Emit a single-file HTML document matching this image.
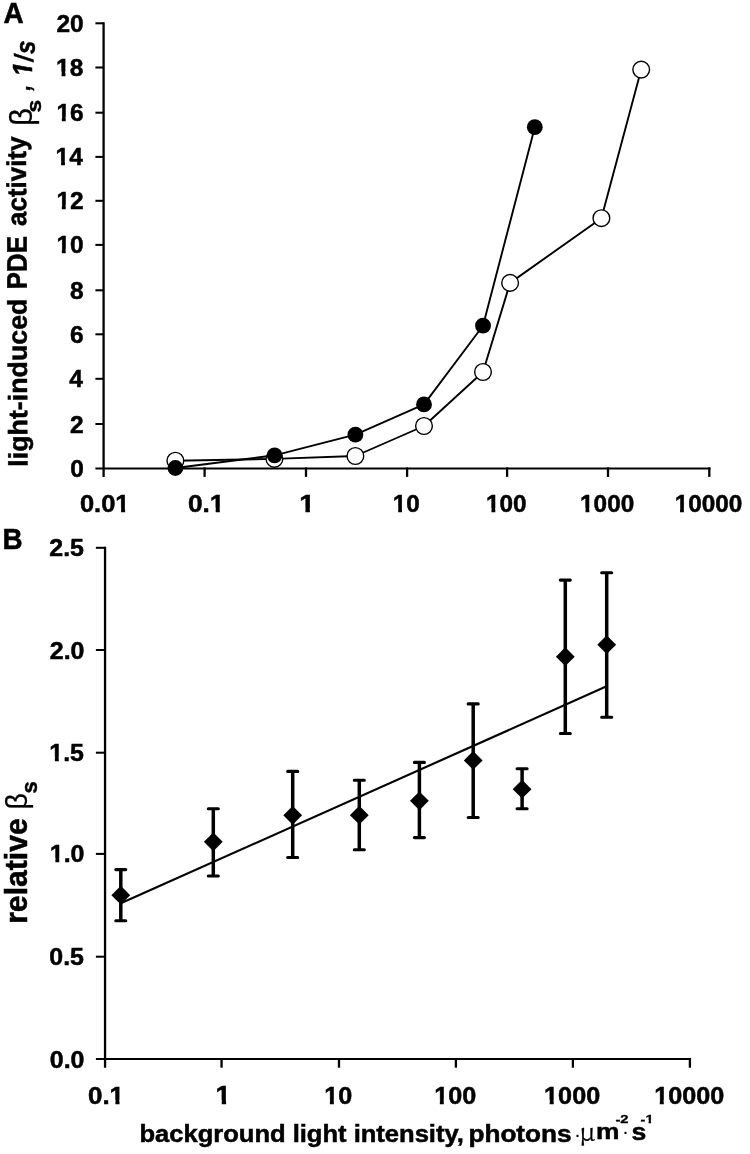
<!DOCTYPE html>
<html lang="en"><head><meta charset="utf-8"><title>Figure</title>
<style>html,body{margin:0;padding:0;background:#fff;}svg{display:block;}text{font-family:"Liberation Sans", Arial, Helvetica, sans-serif;font-weight:bold;fill:#000;}.sym{font-family:"Liberation Sans", Arial, sans-serif;font-weight:normal;}.ser{font-family:"Noto Serif CJK SC", "Liberation Serif", serif;font-weight:normal;}.ln{stroke:#000;fill:none;}</style></head><body>
<svg width="750" height="1154" viewBox="0 0 750 1154" role="img" aria-label="Figure panels A and B">
<rect x="0" y="0" width="750" height="1154" fill="#fff"/>
<g class="ln" stroke-width="2.3">
<path d="M103.6 22.275000000000002 V476.9"/>
<path d="M204.6 467.375 V476.9"/>
<path d="M306.0 467.375 V476.9"/>
<path d="M407.1 467.375 V476.9"/>
<path d="M507.1 467.375 V476.9"/>
<path d="M608.0 467.375 V476.9"/>
<path d="M709.3 467.375 V476.9"/>
</g>
<g class="ln" stroke-width="2.05">
<path d="M95.4 468.4 H710.4499999999999"/>
<path d="M95.4 23.3 H103.6"/>
<path d="M95.4 67.5 H103.6"/>
<path d="M95.4 112.7 H103.6"/>
<path d="M95.4 156.9 H103.6"/>
<path d="M95.4 200.8 H103.6"/>
<path d="M95.4 244.9 H103.6"/>
<path d="M95.4 290.3 H103.6"/>
<path d="M95.4 334.3 H103.6"/>
<path d="M95.4 378.8 H103.6"/>
<path d="M95.4 424.0 H103.6"/>
</g>
<g transform="translate(56.38 31.61) scale(1.0200 0.9886)"><text x="0" y="0" font-size="24" stroke="#000" stroke-width="0.5">20</text></g>
<g transform="translate(56.12 75.81) scale(1.0200 0.9886)"><text x="0" y="0" font-size="24" stroke="#000" stroke-width="0.5">18</text><polygon fill="#fff" points="0.36,-4.40 5.35,-4.40 5.35,1.95 0.36,1.95"/><polygon fill="#fff" points="9.14,-4.40 13.83,-4.40 13.83,1.95 9.14,1.95"/></g>
<g transform="translate(56.38 121.01) scale(1.0200 0.9886)"><text x="0" y="0" font-size="24" stroke="#000" stroke-width="0.5">16</text><polygon fill="#fff" points="0.36,-4.40 5.35,-4.40 5.35,1.95 0.36,1.95"/><polygon fill="#fff" points="9.14,-4.40 13.83,-4.40 13.83,1.95 9.14,1.95"/></g>
<g transform="translate(55.62 165.45) scale(1.0200 1.0176)"><text x="0" y="0" font-size="24" stroke="#000" stroke-width="0.5">14</text><polygon fill="#fff" points="0.36,-4.40 5.35,-4.40 5.35,1.95 0.36,1.95"/><polygon fill="#fff" points="9.14,-4.40 13.83,-4.40 13.83,1.95 9.14,1.95"/></g>
<g transform="translate(56.38 209.35) scale(1.0200 1.0029)"><text x="0" y="0" font-size="24" stroke="#000" stroke-width="0.5">12</text><polygon fill="#fff" points="0.36,-4.40 5.35,-4.40 5.35,1.95 0.36,1.95"/><polygon fill="#fff" points="9.14,-4.40 13.83,-4.40 13.83,1.95 9.14,1.95"/></g>
<g transform="translate(56.38 253.21) scale(1.0200 0.9886)"><text x="0" y="0" font-size="24" stroke="#000" stroke-width="0.5">10</text><polygon fill="#fff" points="0.36,-4.40 5.35,-4.40 5.35,1.95 0.36,1.95"/><polygon fill="#fff" points="9.14,-4.40 13.83,-4.40 13.83,1.95 9.14,1.95"/></g>
<g transform="translate(69.89 298.61) scale(1.0200 0.9886)"><text x="0" y="0" font-size="24" stroke="#000" stroke-width="0.5">8</text></g>
<g transform="translate(69.90 342.61) scale(1.0200 0.9886)"><text x="0" y="0" font-size="24" stroke="#000" stroke-width="0.5">6</text></g>
<g transform="translate(69.13 387.35) scale(1.0200 1.0176)"><text x="0" y="0" font-size="24" stroke="#000" stroke-width="0.5">4</text></g>
<g transform="translate(69.89 432.55) scale(1.0200 1.0029)"><text x="0" y="0" font-size="24" stroke="#000" stroke-width="0.5">2</text></g>
<g transform="translate(70.15 476.71) scale(1.0200 0.9886)"><text x="0" y="0" font-size="24" stroke="#000" stroke-width="0.5">0</text></g>
<g transform="translate(79.90 512.21) scale(1.0635 0.9829)"><text x="0" y="0" font-size="24" stroke="#000" stroke-width="0.5">0.01</text><polygon fill="#fff" points="33.72,-4.40 38.71,-4.40 38.71,1.95 33.72,1.95"/><polygon fill="#fff" points="42.50,-4.40 47.19,-4.40 47.19,1.95 42.50,1.95"/></g>
<g transform="translate(187.88 512.21) scale(1.0947 0.9829)"><text x="0" y="0" font-size="24" stroke="#000" stroke-width="0.5">0.1</text><polygon fill="#fff" points="20.38,-4.40 25.37,-4.40 25.37,1.95 20.38,1.95"/><polygon fill="#fff" points="29.16,-4.40 33.85,-4.40 33.85,1.95 29.16,1.95"/></g>
<g transform="translate(299.14 512.45) scale(1.1742 1.0118)"><text x="0" y="0" font-size="24" stroke="#000" stroke-width="0.5">1</text><polygon fill="#fff" points="0.36,-4.40 5.35,-4.40 5.35,1.95 0.36,1.95"/><polygon fill="#fff" points="9.14,-4.40 13.83,-4.40 13.83,1.95 9.14,1.95"/></g>
<g transform="translate(392.74 512.21) scale(1.0150 0.9829)"><text x="0" y="0" font-size="24" stroke="#000" stroke-width="0.5">10</text><polygon fill="#fff" points="0.36,-4.40 5.35,-4.40 5.35,1.95 0.36,1.95"/><polygon fill="#fff" points="9.14,-4.40 13.83,-4.40 13.83,1.95 9.14,1.95"/></g>
<g transform="translate(486.02 512.21) scale(1.0150 0.9829)"><text x="0" y="0" font-size="24" stroke="#000" stroke-width="0.5">100</text><polygon fill="#fff" points="0.36,-4.40 5.35,-4.40 5.35,1.95 0.36,1.95"/><polygon fill="#fff" points="9.14,-4.40 13.83,-4.40 13.83,1.95 9.14,1.95"/></g>
<g transform="translate(580.07 512.21) scale(1.0150 0.9829)"><text x="0" y="0" font-size="24" stroke="#000" stroke-width="0.5">1000</text><polygon fill="#fff" points="0.36,-4.40 5.35,-4.40 5.35,1.95 0.36,1.95"/><polygon fill="#fff" points="9.14,-4.40 13.83,-4.40 13.83,1.95 9.14,1.95"/></g>
<g transform="translate(674.64 512.21) scale(1.0150 0.9829)"><text x="0" y="0" font-size="24" stroke="#000" stroke-width="0.5">10000</text><polygon fill="#fff" points="0.36,-4.40 5.35,-4.40 5.35,1.95 0.36,1.95"/><polygon fill="#fff" points="9.14,-4.40 13.83,-4.40 13.83,1.95 9.14,1.95"/></g>
<g class="ln" stroke-width="1.9" stroke-linejoin="round">
<polyline points="175.4,460.7 274.4,458.9 355.4,456.0 424.0,426.0 483.0,372.0 510.1,282.9 601.4,218.2 641.2,69.6"/>
<polyline points="175.4,468.0 274.6,455.3 355.4,434.7 424.0,404.4 483.0,325.7 534.8,127.2"/>
</g>
<g fill="#fff" stroke="#000" stroke-width="1.4">
<circle cx="175.4" cy="460.7" r="8.35"/>
<circle cx="274.4" cy="458.9" r="8.35"/>
<circle cx="355.4" cy="456.0" r="8.35"/>
<circle cx="424.0" cy="426.0" r="8.35"/>
<circle cx="483.0" cy="372.0" r="8.35"/>
<circle cx="510.1" cy="282.9" r="8.35"/>
<circle cx="601.4" cy="218.2" r="8.35"/>
<circle cx="641.2" cy="69.6" r="8.35"/>
</g>
<g fill="#000">
<circle cx="175.4" cy="468.0" r="7.9"/>
<circle cx="274.6" cy="455.3" r="7.9"/>
<circle cx="355.4" cy="434.7" r="7.9"/>
<circle cx="424.0" cy="404.4" r="7.9"/>
<circle cx="483.0" cy="325.7" r="7.9"/>
<circle cx="534.8" cy="127.2" r="7.9"/>
</g>
<g transform="translate(3.50 23.23) scale(0.9974 1.0633)"><text x="0" y="0" font-size="28" stroke="#000" stroke-width="0.5">A</text></g>
<g transform="translate(2.56 548.94) scale(0.9943 1.0329)"><text x="0" y="0" font-size="28" stroke="#000" stroke-width="0.5">B</text></g>
<g transform="rotate(-0.37 20 300)">
<g transform="translate(26.48 466.74) rotate(-90) scale(0.9925 0.9864)"><text x="0" y="0" font-size="27" stroke="#000" stroke-width="0.5">light-induced</text></g>
<g transform="translate(26.94 289.35) rotate(-90) scale(0.9634 1.0474)"><text x="0" y="0" font-size="27" stroke="#000" stroke-width="0.5">PDE</text></g>
<g transform="translate(26.83 225.98) rotate(-90) scale(0.9628 1.0039)"><text x="0" y="0" font-size="27" stroke="#000" stroke-width="0.5">activity</text></g>
</g>
<g transform="translate(31.59 126.08) rotate(-90) scale(1.0386 1.0571)"><text x="0" y="0" font-size="30" class="sym" stroke="#000" stroke-width="0.3">β</text></g>
<g transform="translate(40.54 112.50) rotate(-90) scale(0.9913 0.9154)"><text x="0" y="0" font-size="23" stroke="#000" stroke-width="0.5">s</text></g>
<g transform="translate(30.25 90.50) rotate(-90) scale(0.6667 0.8737)"><text x="0" y="0" font-size="30" stroke="#000" stroke-width="0.5" font-style="italic">,</text></g>
<g transform="translate(32.46 76.41) rotate(-90) scale(0.9116 0.9610)"><text x="0" y="0" font-size="29" stroke="#000" stroke-width="0.5" font-style="italic">1</text><polygon fill="#fff" points="0.29,-5.22 6.13,-5.22 4.80,1.95 -1.05,1.95"/><polygon fill="#fff" points="10.61,-5.22 15.71,-5.22 14.37,1.95 9.28,1.95"/></g>
<g transform="translate(33.42 61.54) rotate(-90) scale(0.7673 0.9000)"><text x="0" y="0" font-size="29" stroke="#000" stroke-width="0.5" font-style="italic">/</text></g>
<g transform="translate(34.93 53.90) rotate(-90) scale(0.8387 0.9354)"><text x="0" y="0" font-size="29" stroke="#000" stroke-width="0.5" font-style="italic">s</text></g>
<g class="ln" stroke-width="2.3">
<path d="M105.05 546.775 V1067.7"/>
<path d="M221.55 1057.975 V1067.7"/>
<path d="M339.0 1057.975 V1067.7"/>
<path d="M455.9 1057.975 V1067.7"/>
<path d="M572.9 1057.975 V1067.7"/>
<path d="M689.9 1057.975 V1067.7"/>
</g>
<g class="ln" stroke-width="2.05">
<path d="M95.9 1059.0 H691.05"/>
<path d="M95.9 547.8 H105.05"/>
<path d="M95.9 650.0 H105.05"/>
<path d="M95.9 752.7 H105.05"/>
<path d="M95.9 853.9 H105.05"/>
<path d="M95.9 956.7 H105.05"/>
</g>
<g transform="translate(49.28 556.35) scale(1.0400 1.0000)"><text x="0" y="0" font-size="24" stroke="#000" stroke-width="0.5">2.5</text></g>
<g transform="translate(49.80 658.55) scale(1.0400 1.0000)"><text x="0" y="0" font-size="24" stroke="#000" stroke-width="0.5">2.0</text></g>
<g transform="translate(49.28 761.24) scale(1.0400 1.0145)"><text x="0" y="0" font-size="24" stroke="#000" stroke-width="0.5">1.5</text><polygon fill="#fff" points="0.36,-4.40 5.35,-4.40 5.35,1.95 0.36,1.95"/><polygon fill="#fff" points="9.14,-4.40 13.83,-4.40 13.83,1.95 9.14,1.95"/></g>
<g transform="translate(49.80 862.45) scale(1.0400 1.0000)"><text x="0" y="0" font-size="24" stroke="#000" stroke-width="0.5">1.0</text><polygon fill="#fff" points="0.36,-4.40 5.35,-4.40 5.35,1.95 0.36,1.95"/><polygon fill="#fff" points="9.14,-4.40 13.83,-4.40 13.83,1.95 9.14,1.95"/></g>
<g transform="translate(49.28 965.25) scale(1.0400 1.0000)"><text x="0" y="0" font-size="24" stroke="#000" stroke-width="0.5">0.5</text></g>
<g transform="translate(49.80 1067.55) scale(1.0400 1.0000)"><text x="0" y="0" font-size="24" stroke="#000" stroke-width="0.5">0.0</text></g>
<g transform="translate(87.99 1104.20) scale(1.0807 1.0057)"><text x="0" y="0" font-size="24" stroke="#000" stroke-width="0.5">0.1</text><polygon fill="#fff" points="20.38,-4.40 25.37,-4.40 25.37,1.95 20.38,1.95"/><polygon fill="#fff" points="29.16,-4.40 33.85,-4.40 33.85,1.95 29.16,1.95"/></g>
<g transform="translate(215.58 1104.44) scale(1.1484 1.0353)"><text x="0" y="0" font-size="24" stroke="#000" stroke-width="0.5">1</text><polygon fill="#fff" points="0.36,-4.40 5.35,-4.40 5.35,1.95 0.36,1.95"/><polygon fill="#fff" points="9.14,-4.40 13.83,-4.40 13.83,1.95 9.14,1.95"/></g>
<g transform="translate(324.26 1104.20) scale(1.0500 1.0057)"><text x="0" y="0" font-size="24" stroke="#000" stroke-width="0.5">10</text><polygon fill="#fff" points="0.36,-4.40 5.35,-4.40 5.35,1.95 0.36,1.95"/><polygon fill="#fff" points="9.14,-4.40 13.83,-4.40 13.83,1.95 9.14,1.95"/></g>
<g transform="translate(434.21 1104.20) scale(1.0500 1.0057)"><text x="0" y="0" font-size="24" stroke="#000" stroke-width="0.5">100</text><polygon fill="#fff" points="0.36,-4.40 5.35,-4.40 5.35,1.95 0.36,1.95"/><polygon fill="#fff" points="9.14,-4.40 13.83,-4.40 13.83,1.95 9.14,1.95"/></g>
<g transform="translate(544.12 1104.20) scale(1.0500 1.0057)"><text x="0" y="0" font-size="24" stroke="#000" stroke-width="0.5">1000</text><polygon fill="#fff" points="0.36,-4.40 5.35,-4.40 5.35,1.95 0.36,1.95"/><polygon fill="#fff" points="9.14,-4.40 13.83,-4.40 13.83,1.95 9.14,1.95"/></g>
<g transform="translate(654.16 1104.20) scale(1.0500 1.0057)"><text x="0" y="0" font-size="24" stroke="#000" stroke-width="0.5">10000</text><polygon fill="#fff" points="0.36,-4.40 5.35,-4.40 5.35,1.95 0.36,1.95"/><polygon fill="#fff" points="9.14,-4.40 13.83,-4.40 13.83,1.95 9.14,1.95"/></g>
<path class="ln" stroke-width="2.15" d="M120.8 903.3 L605.5 686.8"/>
<g class="ln" stroke-width="3.5">
<path d="M120.8 869.6 V920.8"/>
<path d="M213.3 808.8 V876.0"/>
<path d="M292.7 771.4 V857.5"/>
<path d="M359.3 780.3 V849.7"/>
<path d="M419.4 762.4 V837.6"/>
<path d="M473.2 703.9 V817.5"/>
<path d="M522.1 768.7 V808.7"/>
<path d="M565.3 580.1 V733.5"/>
<path d="M606.7 572.7 V717.2"/>
</g>
<g class="ln" stroke-width="3.1" stroke-linecap="round">
<path d="M115.8 869.6 h10 M115.8 920.8 h10"/>
<path d="M208.3 808.8 h10 M208.3 876.0 h10"/>
<path d="M287.7 771.4 h10 M287.7 857.5 h10"/>
<path d="M354.3 780.3 h10 M354.3 849.7 h10"/>
<path d="M414.4 762.4 h10 M414.4 837.6 h10"/>
<path d="M468.2 703.9 h10 M468.2 817.5 h10"/>
<path d="M517.1 768.7 h10 M517.1 808.7 h10"/>
<path d="M560.3 580.1 h10 M560.3 733.5 h10"/>
<path d="M601.7 572.7 h10 M601.7 717.2 h10"/>
</g>
<g fill="#000">
<path d="M120.8 885.8000000000001 l9.4 9.4 l-9.4 9.4 l-9.4 -9.4 z"/>
<path d="M213.3 832.4 l9.4 9.4 l-9.4 9.4 l-9.4 -9.4 z"/>
<path d="M292.7 805.9 l9.4 9.4 l-9.4 9.4 l-9.4 -9.4 z"/>
<path d="M359.3 805.8000000000001 l9.4 9.4 l-9.4 9.4 l-9.4 -9.4 z"/>
<path d="M419.4 791.4 l9.4 9.4 l-9.4 9.4 l-9.4 -9.4 z"/>
<path d="M473.2 751.0 l9.4 9.4 l-9.4 9.4 l-9.4 -9.4 z"/>
<path d="M522.1 779.8000000000001 l9.4 9.4 l-9.4 9.4 l-9.4 -9.4 z"/>
<path d="M565.3 647.3000000000001 l9.4 9.4 l-9.4 9.4 l-9.4 -9.4 z"/>
<path d="M606.7 635.3000000000001 l9.4 9.4 l-9.4 9.4 l-9.4 -9.4 z"/>
</g>
<g transform="translate(26.68 923.86) rotate(-90) scale(1.0049 1.0311)"><text x="0" y="0" font-size="30" stroke="#000" stroke-width="0.5">relative</text></g>
<g transform="translate(26.70 809.41) rotate(-90) scale(0.9786 1.0073)"><text x="0" y="0" font-size="29" class="sym" stroke="#000" stroke-width="0.3">β</text></g>
<g transform="translate(36.51 793.48) rotate(-90) scale(0.9565 0.9769)"><text x="0" y="0" font-size="23" stroke="#000" stroke-width="0.5">s</text></g>
<g transform="translate(139.47 1142.47) scale(1.0644 1.0154)"><text x="0" y="0" font-size="24" stroke="#000" stroke-width="0.5">background light intensity,</text></g>
<g transform="translate(468.44 1142.47) scale(1.0900 1.0154)"><text x="0" y="0" font-size="24" stroke="#000" stroke-width="0.5">photons</text></g>
<g transform="translate(575.61 1140.78) scale(0.8889 0.8889)"><text x="0" y="0" font-size="16">·</text></g>
<g transform="translate(579.18 1140.98) scale(1.0308 0.9946)"><text x="0" y="0" font-size="25" class="ser" stroke="#000" stroke-width="0.25">μ</text></g>
<g transform="translate(595.93 1139.27) scale(1.0987 0.9333)"><text x="0" y="0" font-size="24" stroke="#000" stroke-width="0.5">m</text></g>
<g transform="translate(615.46 1123.10) scale(1.3405 1.0065)"><text x="0" y="0" font-size="11" stroke="#000" stroke-width="0.3">-2</text></g>
<g transform="translate(623.41 1138.08) scale(0.8889 0.8889)"><text x="0" y="0" font-size="16">·</text></g>
<g transform="translate(631.45 1140.01) scale(1.1083 0.9891)"><text x="0" y="0" font-size="24" stroke="#000" stroke-width="0.5">s</text></g>
<g transform="translate(640.57 1123.00) scale(1.3161 0.9935)"><text x="0" y="0" font-size="11" stroke="#000" stroke-width="0.3">-1</text><polygon fill="#fff" points="3.30,-2.97 6.07,-2.97 6.07,1.85 3.30,1.85"/><polygon fill="#fff" points="7.88,-2.97 10.52,-2.97 10.52,1.85 7.88,1.85"/></g>
</svg>
</body></html>
